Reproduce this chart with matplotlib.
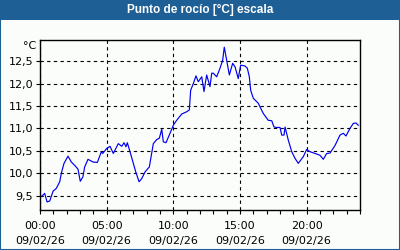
import matplotlib
matplotlib.use("Agg")
import matplotlib.pyplot as plt
from matplotlib.patches import Rectangle
from matplotlib.ticker import MultipleLocator, FuncFormatter

title = "Punto de rocío [°C] escala"
unit = "°C"
date_label = "09/02/26"
x_tick_hours = [0, 5, 10, 15, 20]
y_ticks = [9.5, 10.0, 10.5, 11.0, 11.5, 12.0, 12.5]

hours = [0.0, 0.15, 0.35, 0.53, 0.73, 0.98, 1.22, 1.48, 1.6, 1.8, 2.1, 2.35, 2.65,
         2.85, 3.02, 3.22, 3.35, 3.6, 3.98, 4.3, 4.6, 4.7, 5.0, 5.25, 5.5, 5.87,
         6.13, 6.3, 6.45, 6.55, 6.75, 7.0, 7.18, 7.43, 7.63, 7.88, 8.2, 8.5, 8.75,
         8.95, 9.13, 9.25, 9.45, 9.75, 10.0, 10.25, 10.63, 11.0, 11.2, 11.3, 11.5,
         11.7, 11.87, 12.13, 12.3, 12.5, 12.75, 12.88, 13.0, 13.25, 13.5, 13.7,
         13.82, 14.0, 14.2, 14.45, 14.63, 14.87, 15.05, 15.38, 15.55, 15.7, 15.8,
         16.0, 16.37, 16.75, 17.12, 17.38, 17.55, 17.75, 18.0, 18.13, 18.3, 18.38,
         18.62, 18.88, 19.13, 19.37, 19.75, 20.0, 20.25, 20.63, 21.0, 21.25, 21.5,
         21.75, 22.13, 22.5, 22.75, 22.95, 23.25, 23.5, 23.7, 23.87]
dew_point = [9.47, 9.49, 9.55, 9.36, 9.38, 9.60, 9.66, 9.81, 10.0, 10.22, 10.38, 10.25,
             10.16, 10.09, 9.82, 9.92, 10.14, 10.31, 10.25, 10.24, 10.48, 10.44, 10.55,
             10.60, 10.44, 10.66, 10.60, 10.68, 10.59, 10.68, 10.48, 10.22, 10.03, 9.81,
             9.88, 10.03, 10.14, 10.66, 10.75, 10.78, 10.98, 10.70, 10.68, 10.89, 11.07,
             11.18, 11.32, 11.37, 11.41, 11.85, 12.0, 12.17, 12.04, 12.15, 11.82, 12.19,
             11.93, 12.23, 12.23, 12.15, 12.34, 12.52, 12.81, 12.52, 12.19, 12.45, 12.37,
             12.11, 12.41, 12.39, 12.34, 12.15, 11.85, 11.67, 11.56, 11.33, 11.18, 11.17,
             11.03, 11.02, 11.02, 10.85, 10.85, 11.03, 10.74, 10.48, 10.33, 10.22, 10.37,
             10.53, 10.48, 10.44, 10.40, 10.31, 10.44, 10.45, 10.62, 10.85, 10.89, 10.83,
             11.0, 11.11, 11.12, 11.07]

blue = "#1e5f96"
bg = "#fbfdfb"

fig = plt.figure(figsize=(4, 2.5), dpi=100, facecolor=bg)
# border and title bar
fig.patches.append(Rectangle((0, 0), 1, 1, transform=fig.transFigure, fill=False,
                             edgecolor=blue, linewidth=1.5))
fig.patches.append(Rectangle((0, 1 - 20 / 250), 1, 20 / 250, transform=fig.transFigure,
                             facecolor=blue, edgecolor="none"))
fig.text(0.5, 1 - 10 / 250, title, color="white", ha="center", va="center",
         fontsize=8.5, fontweight="bold", family="Liberation Sans")

ax = fig.add_axes([40 / 400, 40 / 250, 320 / 400, 170 / 250])
ax.set_facecolor(bg)
ax.plot(hours, dew_point, color="#0000ee", linewidth=0.85)
ax.set_xlim(0, 24)
ax.set_ylim(9.18, 12.97)

ax.set_xticks(x_tick_hours)
ax.set_xticklabels([f"{h:02d}:00\n{date_label}" for h in x_tick_hours],
                   fontsize=8, linespacing=1.55)
ax.xaxis.set_minor_locator(MultipleLocator(1))
ax.set_yticks(y_ticks)
ax.yaxis.set_major_formatter(FuncFormatter(lambda v, p: f"{v:.1f}".replace(".", ",")))
ax.tick_params(axis="y", labelsize=8, length=3, width=0.8, pad=2)
ax.tick_params(axis="x", which="major", length=3, width=0.8, pad=5)
ax.tick_params(axis="x", which="minor", length=3, width=0.8)
ax.grid(True, which="major", color="black", linestyle=(0, (3, 3)), linewidth=0.8)
for s in ax.spines.values():
    s.set_linewidth(1)
    s.set_color("black")

fig.text(30 / 400, 1 - 46 / 250, unit, ha="center", va="center", fontsize=8)

fig.savefig("out.png", dpi=100, facecolor=bg)
